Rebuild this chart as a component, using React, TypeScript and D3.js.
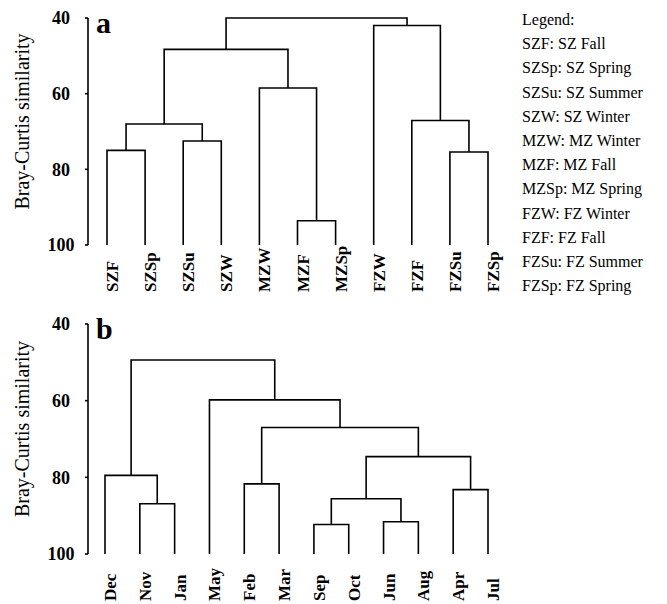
import React from 'react';
import * as d3 from 'd3';

// leaf order as drawn, left to right
const zoneLeaves = ['SZF', 'SZSp', 'SZSu', 'SZW', 'MZW', 'MZF', 'MZSp', 'FZW', 'FZF', 'FZSu', 'FZSp'];
// linkage rows: [child, child, similarity]; ids >= leaves.length are earlier merges
const zoneMerges: [number, number, number][] = [
  [0, 1, 75],
  [2, 3, 72.5],
  [11, 12, 68],
  [5, 6, 93.6],
  [4, 14, 58.5],
  [13, 15, 48.3],
  [9, 10, 75.4],
  [8, 17, 67.1],
  [7, 18, 42],
  [16, 19, 40],
];

const monthLeaves = ['Dec', 'Nov', 'Jan', 'May', 'Feb', 'Mar', 'Sep', 'Oct', 'Jun', 'Aug', 'Apr', 'Jul'];
const monthMerges: [number, number, number][] = [
  [1, 2, 86.9],
  [0, 12, 79.5],
  [4, 5, 81.7],
  [6, 7, 92.3],
  [8, 9, 91.6],
  [15, 16, 85.6],
  [10, 11, 83.2],
  [17, 18, 74.6],
  [14, 19, 67.0],
  [3, 20, 59.8],
  [13, 21, 49.4],
];

const yTicks = [40, 60, 80, 100];

const legendLines = [
  'Legend:',
  'SZF: SZ Fall',
  'SZSp: SZ Spring',
  'SZSu: SZ Summer',
  'SZW: SZ Winter',
  'MZW: MZ Winter',
  'MZF: MZ Fall',
  'MZSp: MZ Spring',
  'FZW: FZ Winter',
  'FZF: FZ Fall',
  'FZSu: FZ Summer',
  'FZSp: FZ Spring',
];

const serif = '"Liberation Serif", "Times New Roman", serif';

type PanelProps = {
  leaves: string[];
  merges: [number, number, number][];
  letter: string;
  top: number;
  bottom: number;
  left: number;
  right: number;
  labelY: number;
};

const Panel = ({ leaves, merges, letter, top, bottom, left, right, labelY }: PanelProps) => {
  const axisX = 88;
  const x = d3.scalePoint<string>().domain(leaves).range([left, right]);
  const y = d3.scaleLinear().domain([40, 100]).range([top, bottom]);

  // positions of every node (leaves first, then merges)
  const nodes: { x: number; h: number }[] = leaves.map(l => ({ x: x(l) as number, h: 100 }));
  merges.forEach(([a, b, h]) => {
    nodes.push({ x: (nodes[a].x + nodes[b].x) / 2, h });
  });

  const links = merges.map(([a, b, h]) => {
    const p = d3.path();
    p.moveTo(nodes[a].x, y(nodes[a].h));
    p.lineTo(nodes[a].x, y(h));
    p.lineTo(nodes[b].x, y(h));
    p.lineTo(nodes[b].x, y(nodes[b].h));
    return p.toString();
  });

  return (
    <g>
      {/* y axis */}
      <line x1={axisX} x2={axisX} y1={y(40)} y2={y(100)} stroke="#000" strokeWidth={1.6} />
      {yTicks.map(t => (
        <g key={t}>
          <line x1={axisX - 3} x2={axisX} y1={y(t)} y2={y(t)} stroke="#000" strokeWidth={1.6} />
          <text x={61} y={y(t)} dy="0.35em" textAnchor="middle" fontFamily={serif} fontWeight="bold" fontSize={18}>
            {t}
          </text>
        </g>
      ))}
      <text
        transform={`translate(29,${(y(40) + y(100)) / 2 - 10}) rotate(-90)`}
        textAnchor="middle"
        fontFamily={serif}
        fontSize={20}
      >
        Bray-Curtis similarity
      </text>
      <text x={96} y={top + 15} fontFamily={serif} fontWeight="bold" fontSize={30}>
        {letter}
      </text>

      {links.map((d, i) => (
        <path key={i} d={d} fill="none" stroke="#000" strokeWidth={1.6} />
      ))}

      {leaves.map(l => (
        <text
          key={l}
          transform={`translate(${(x(l) as number) + 11},${labelY}) rotate(-90)`}
          textAnchor="start"
          fontFamily={serif}
          fontWeight="bold"
          fontSize={17}
        >
          {l}
        </text>
      ))}
    </g>
  );
};

export default function App() {
  return (
    <svg
      width={667}
      height={604}
      style={{ position: 'absolute', left: 0, top: 0, background: '#fff' }}
    >
      <Panel leaves={zoneLeaves} merges={zoneMerges} letter="a" top={18} bottom={245} left={107} right={488} labelY={292} />
      <Panel leaves={monthLeaves} merges={monthMerges} letter="b" top={324} bottom={554} left={105} right={488} labelY={601} />

      {legendLines.map((t, i) => (
        <text key={i} x={522} y={25 + i * 24.2} fontFamily={serif} fontSize={16}>
          {t}
        </text>
      ))}
    </svg>
  );
}
